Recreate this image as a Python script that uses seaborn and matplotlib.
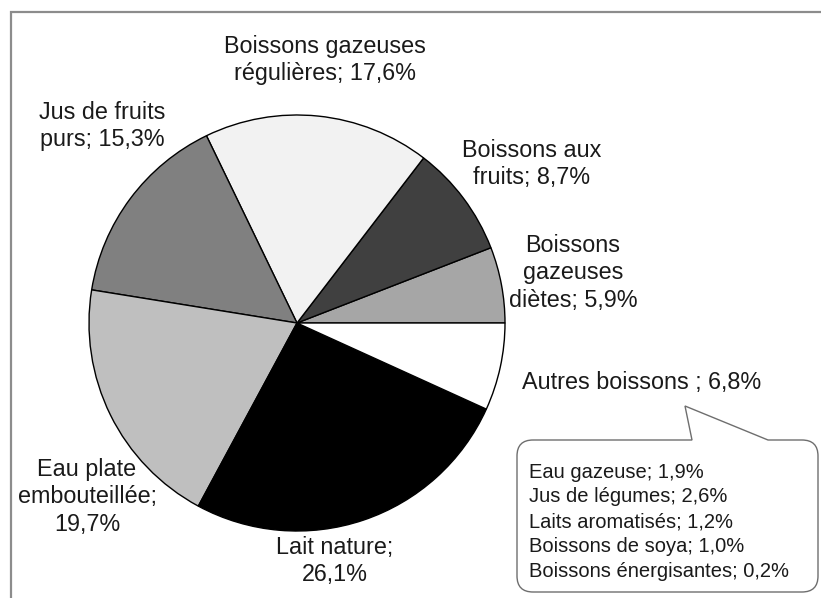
import numpy as np
import matplotlib
matplotlib.use('Agg')
import matplotlib.pyplot as plt
from matplotlib.path import Path
from matplotlib.patches import PathPatch
import seaborn as sns

# ------------------------------------------------------------------
# Data
# ------------------------------------------------------------------

# Slices in drawing order (counter-clockwise from 3 o'clock)
categories = ['Boissons gazeuses diètes', 'Boissons aux fruits',
              'Boissons gazeuses régulières', 'Jus de fruits purs',
              'Eau plate embouteillée', 'Lait nature', 'Autres boissons']
shares = [5.9, 8.7, 17.6, 15.3, 19.7, 26.1, 6.8]
slice_colors = ['#a6a6a6', '#404040', '#f2f2f2', '#808080',
                '#bfbfbf', '#000000', '#ffffff']

# Breakdown of "Autres boissons"
autres_labels = ['Eau gazeuse', 'Jus de légumes', 'Laits aromatisés',
                 'Boissons de soya', 'Boissons énergisantes']
autres_shares = [1.9, 2.6, 1.2, 1.0, 0.2]


def pct(v):
    return f'{v:.1f}'.replace('.', ',') + '%'


# Label layout: wrapped template, pixel position, alignment
label_layout = {
    'Boissons gazeuses diètes': ('Boissons\ngazeuses\ndiètes; {}', 573, 273, 'center'),
    'Boissons aux fruits': ('Boissons aux\nfruits; {}', 532, 164, 'center'),
    'Boissons gazeuses régulières': ('Boissons gazeuses\nrégulières; {}', 325, 60, 'center'),
    'Jus de fruits purs': ('Jus de fruits\npurs; {}', 102, 126, 'center'),
    'Eau plate embouteillée': ('Eau plate\nembouteillée;\n{}', 87, 497, 'center'),
    'Lait nature': ('Lait nature;\n{}', 335, 561, 'center'),
    'Autres boissons': ('Autres boissons ; {}', 522, 383, 'left'),
}

# ------------------------------------------------------------------
# Plot
# ------------------------------------------------------------------

sns.set_theme(style='white')
plt.rcParams['font.family'] = ['Liberation Sans', 'DejaVu Sans']

W, H = 821, 598
fig = plt.figure(figsize=(W / 100, H / 100), dpi=100)
ax = fig.add_axes([0, 0, 1, 1])


def Y(y):
    # pixel row -> data y
    return H - y


palette = sns.color_palette(slice_colors)
ax.pie(shares, colors=palette, startangle=0, counterclock=True,
       center=(297, Y(323)), radius=208, frame=True,
       wedgeprops=dict(edgecolor='black', linewidth=1.0))

for cat, v in zip(categories, shares):
    tmpl, x, y, ha = label_layout[cat]
    ax.text(x, Y(y), tmpl.format(pct(v)), ha=ha, va='center',
            fontsize=16.8, color='#1a1a1a', linespacing=1.23)

# Outer frame (only left and top edges are visible)
ax.plot([11, 11, W + 5], [Y(H + 5), Y(12), Y(12)], color='#8c8c8c',
        linewidth=1.6, solid_joinstyle='miter', clip_on=False)

# Callout bubble for "Autres boissons"
x0, x1, y0, y1, r = 517, 818, 440, 592, 16
verts = [
    (x0 + r, y0), (692, y0), (685, 406), (768, y0), (x1 - r, y0),
    (x1, y0), (x1, y0 + r),
    (x1, y1 - r),
    (x1, y1), (x1 - r, y1),
    (x0 + r, y1),
    (x0, y1), (x0, y1 - r),
    (x0, y0 + r),
    (x0, y0), (x0 + r, y0),
]
codes = [Path.MOVETO, Path.LINETO, Path.LINETO, Path.LINETO, Path.LINETO,
         Path.CURVE3, Path.CURVE3,
         Path.LINETO,
         Path.CURVE3, Path.CURVE3,
         Path.LINETO,
         Path.CURVE3, Path.CURVE3,
         Path.LINETO,
         Path.CURVE3, Path.CURVE3]
bubble = Path([(vx, Y(vy)) for vx, vy in verts], codes)
ax.add_patch(PathPatch(bubble, facecolor='white', edgecolor='#6e6e6e',
                       linewidth=1.0))

for i, (lab, v) in enumerate(zip(autres_labels, autres_shares)):
    ax.text(529, Y(472 + i * 24.8), f'{lab}; {pct(v)}', ha='left',
            va='center', fontsize=14.5, color='#1a1a1a')

ax.set_xlim(0, W)
ax.set_ylim(0, H)
ax.set_aspect('equal')
ax.axis('off')

fig.savefig('out.png', dpi=100)
